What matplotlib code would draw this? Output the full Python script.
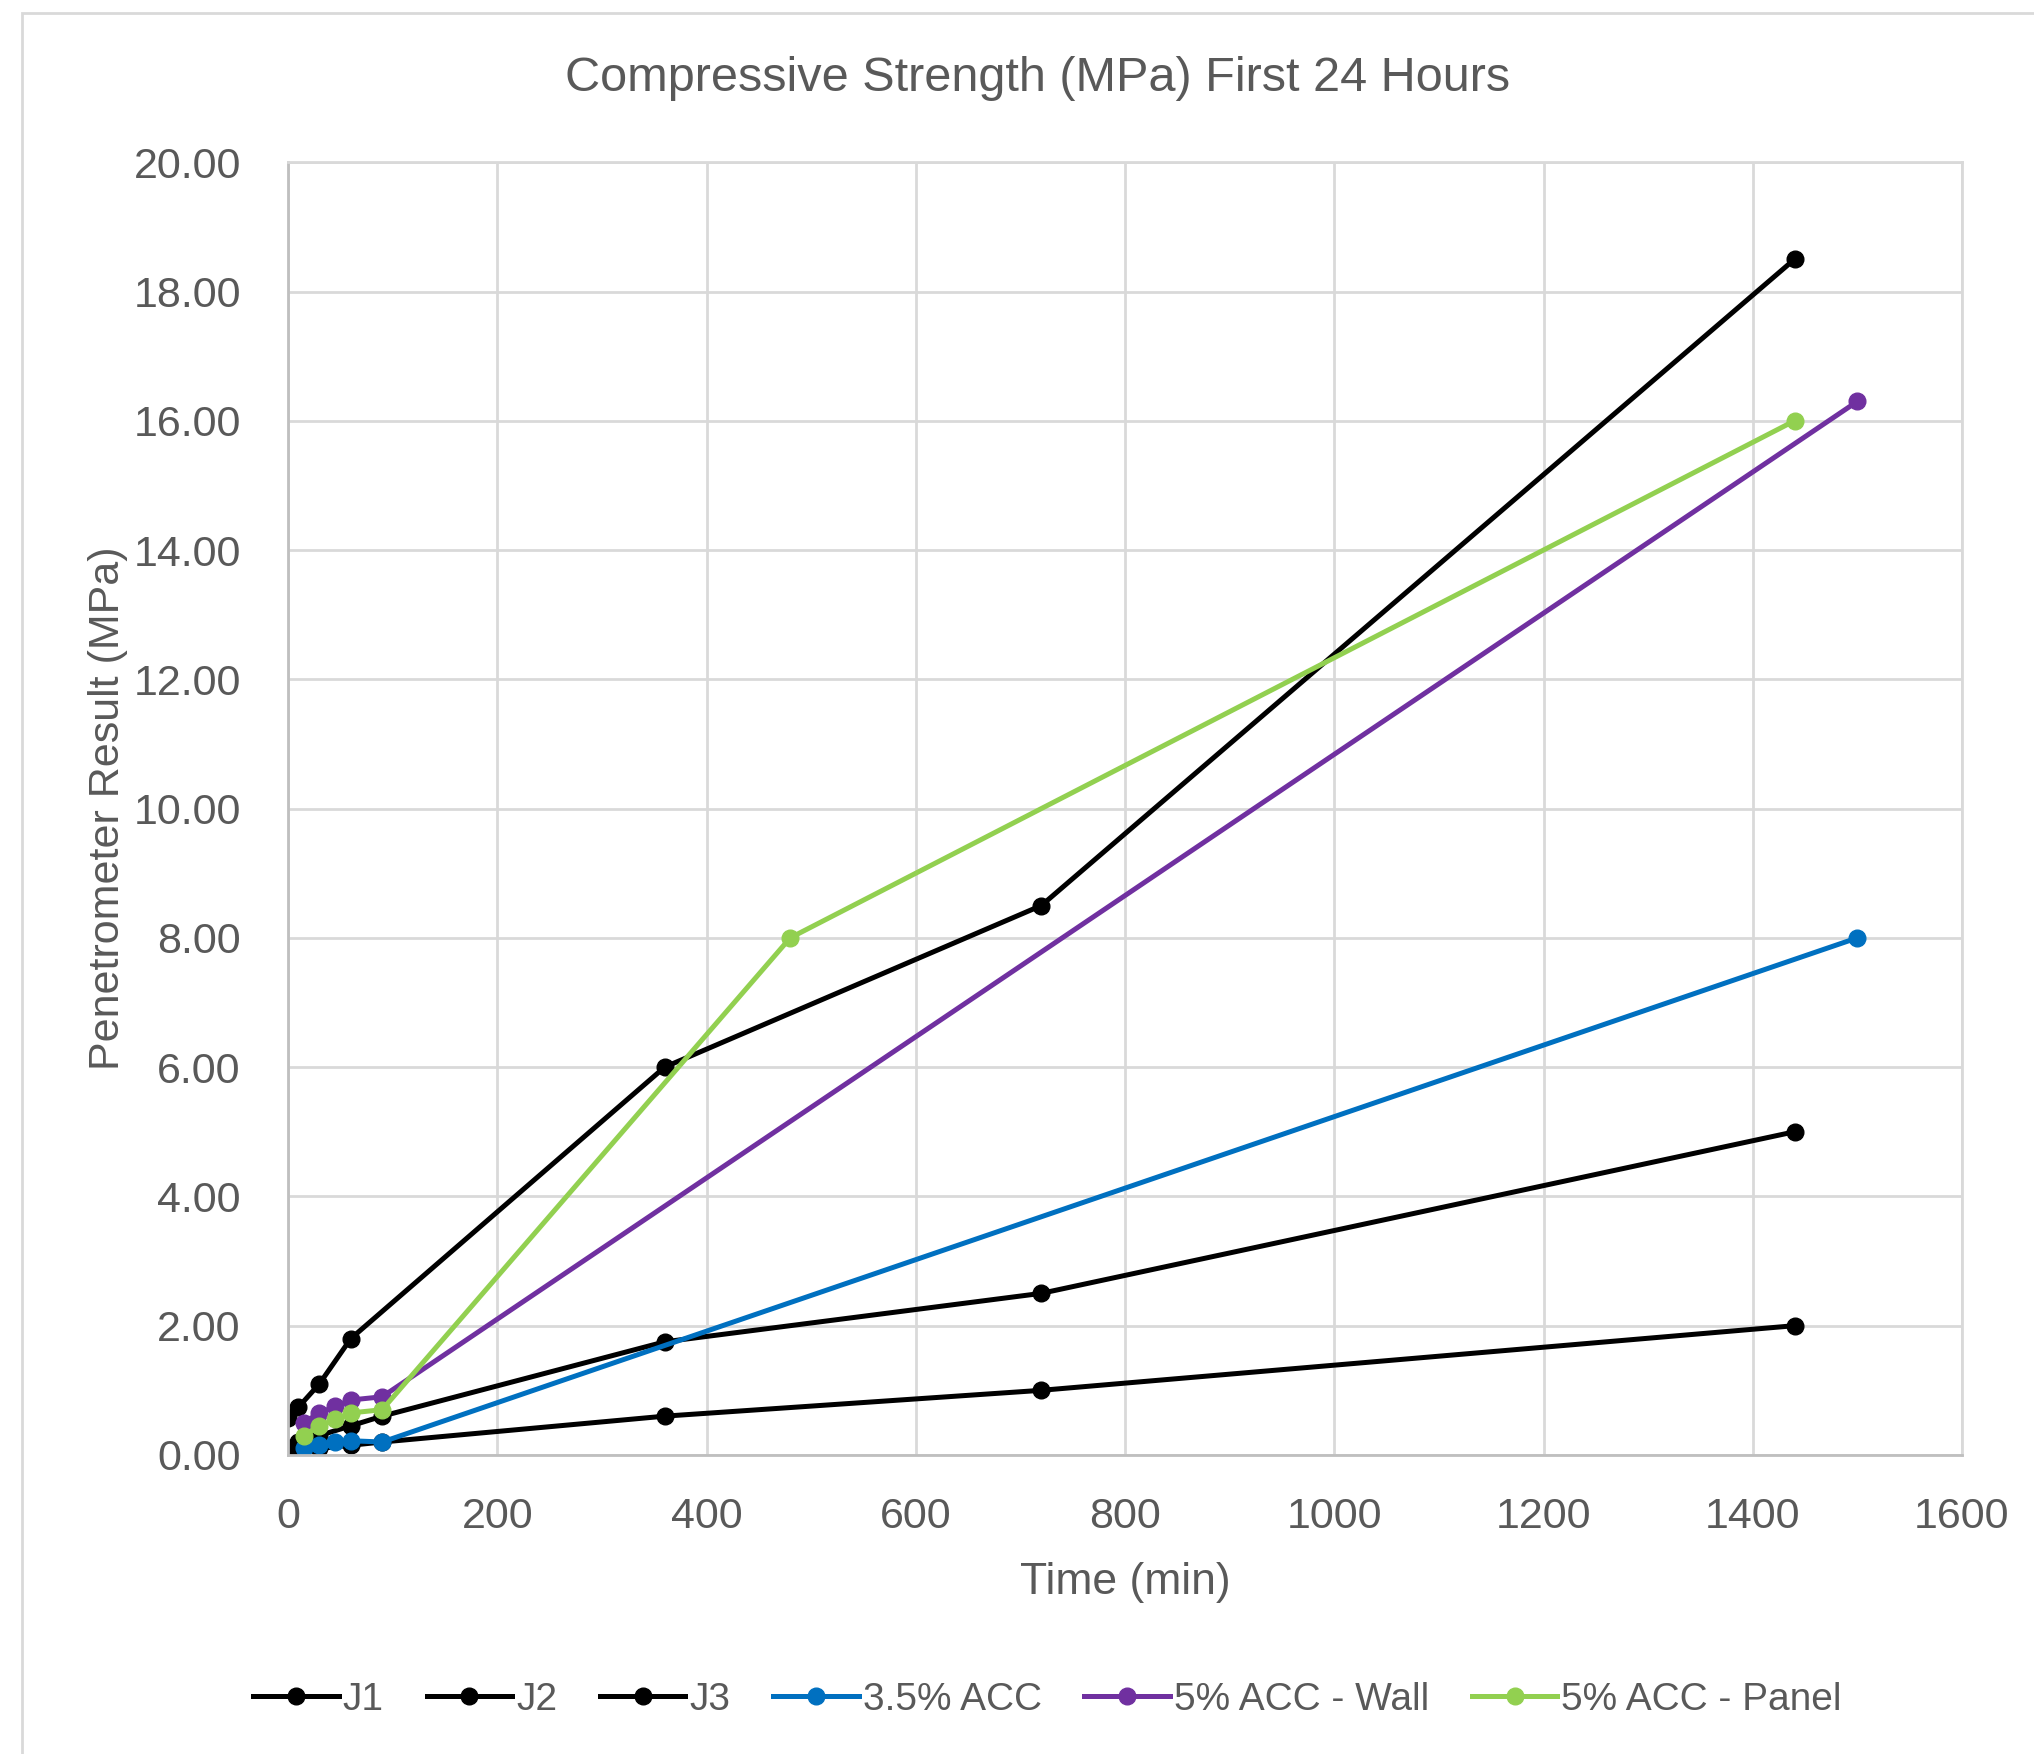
import matplotlib
matplotlib.use("Agg")
import matplotlib.pyplot as plt
from matplotlib.patches import Rectangle

plt.rcParams['font.family'] = ['Liberation Sans', 'DejaVu Sans']

TEXT = '#595959'
GRID = '#D9D9D9'

# data
j1_t = [0, 10, 30, 60, 360, 720, 1440]
j1_v = [0.57, 0.74, 1.1, 1.8, 6.0, 8.5, 18.5]

j2_t = [0, 10, 30, 60, 90, 360, 720, 1440]
j2_v = [0.1, 0.2, 0.3, 0.45, 0.6, 1.75, 2.5, 5.0]

j3_t = [0, 10, 30, 60, 90, 360, 720, 1440]
j3_v = [0.0, 0.05, 0.1, 0.15, 0.2, 0.6, 1.0, 2.0]

acc35_t = [15, 30, 45, 60, 90, 1500]
acc35_v = [0.1, 0.15, 0.2, 0.22, 0.2, 8.0]

wall_t = [15, 30, 45, 60, 90, 1500]
wall_v = [0.5, 0.65, 0.75, 0.85, 0.9, 16.3]

panel_t = [15, 30, 45, 60, 90, 480, 1440]
panel_v = [0.3, 0.45, 0.55, 0.65, 0.7, 8.0, 16.0]

series = [
    ('J1', j1_t, j1_v, 'black'),
    ('J2', j2_t, j2_v, 'black'),
    ('J3', j3_t, j3_v, 'black'),
    ('3.5% ACC', acc35_t, acc35_v, '#0070C0'),
    ('5% ACC - Wall', wall_t, wall_v, '#7030A0'),
    ('5% ACC - Panel', panel_t, panel_v, '#92D050'),
]

fig = plt.figure(figsize=(20.34, 17.54), dpi=100)
ax = fig.add_axes([0.1416, 0.1705, 0.823, 0.737])

# outer chart border
fig.patches.append(Rectangle((0.011, -0.01), 1.2, 1.0026, transform=fig.transFigure,
                             fill=False, edgecolor=GRID, linewidth=2))

for name, t, v, c in series:
    ax.plot(t, v, color=c, linewidth=3.6, marker='o', markersize=12, label=name)

ax.set_xlim(0, 1600)
ax.set_ylim(0, 20)
ax.set_xticks(range(0, 1601, 200))
ax.set_yticks(range(0, 21, 2))
ax.set_yticklabels(['{:.2f}'.format(y) for y in range(0, 21, 2)])
ax.grid(True, color=GRID, linewidth=2)
ax.set_axisbelow(True)
for s in ax.spines.values():
    s.set_color(GRID)
    s.set_linewidth(2)
ax.spines['left'].set_color('#BFBFBF')
ax.spines['bottom'].set_color('#BFBFBF')
ax.tick_params(axis='y', length=0, labelsize=31, labelcolor=TEXT, pad=34)
ax.tick_params(axis='x', length=0, labelsize=31, labelcolor=TEXT, pad=30)

ax.set_xlabel('Time (min)', fontsize=32, color=TEXT, labelpad=18)
ax.set_ylabel('Penetrometer Result (MPa)', fontsize=31, color=TEXT, labelpad=4)
fig.text(0.51, 0.955, 'Compressive Strength (MPa) First 24 Hours', fontsize=35,
         color=TEXT, ha='center', va='center')

fig.legend(loc='center', bbox_to_anchor=(0.515, 0.031), ncol=6, frameon=False,
           fontsize=28, labelcolor=TEXT, handlelength=2.2, handletextpad=0.1,
           columnspacing=1.1)

fig.savefig('out.png', dpi=100)
